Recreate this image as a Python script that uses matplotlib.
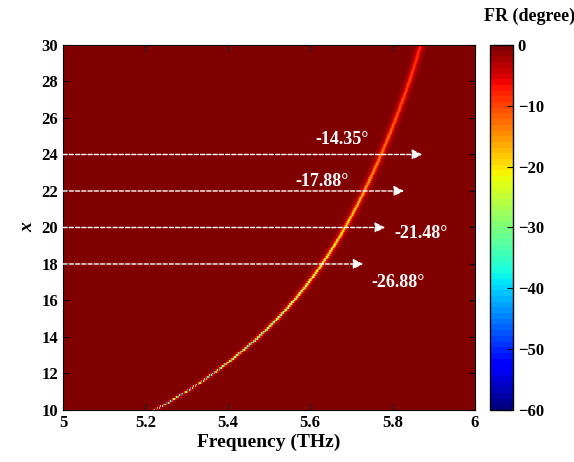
import numpy as np
import matplotlib
matplotlib.use('Agg')
import matplotlib.pyplot as plt

plt.rcParams['font.family'] = ['Liberation Serif', 'DejaVu Serif']
plt.rcParams['font.weight'] = 'bold'

# 共振位置 (読み取り値)
x_levels = [10, 12, 14, 16, 18, 20, 22, 24, 26, 28, 30]
f_res = [5.224, 5.363, 5.477, 5.560, 5.627, 5.686, 5.731, 5.773, 5.808, 5.840, 5.868]
fr_min = [-58, -48, -40, -33, -26.88, -21.48, -17.88, -14.35, -12.0, -10.0, -8.5]
half_width = [0.0015, 0.0018, 0.0022, 0.0026, 0.003, 0.0034, 0.0038, 0.0042, 0.0046, 0.005, 0.0055]

# 矢印と注釈
arrow_x = [24, 22, 20, 18]
arrow_end = [5.872, 5.828, 5.782, 5.729]
labels = ['-14.35°', '-17.88°', '-21.48°', '-26.88°']
label_pos = [(5.678, 24.8), (5.629, 22.5), (5.87, 19.65), (5.814, 17.0)]

freq = np.linspace(5, 6, 1001)
xs = np.linspace(10, 30, 201)
F, X = np.meshgrid(freq, xs)
# 読み取り点を滑らかにつなぐ
f0 = np.polyval(np.polyfit(x_levels, f_res, 4), xs)[:, None]
depth = np.polyval(np.polyfit(x_levels, fr_min, 3), xs)[:, None]
g = np.interp(xs, x_levels, half_width)[:, None]
FR = depth * g**2 / ((F - f0)**2 + g**2)

fig = plt.figure(figsize=(5.74, 4.62), dpi=100)
ax = fig.add_axes([0.1098, 0.1126, 0.7177, 0.79])
cax = fig.add_axes([0.8537, 0.1126, 0.040, 0.79])

cmap = plt.get_cmap('jet', 64)
im = ax.pcolormesh(F, X, FR, cmap=cmap, vmin=-60, vmax=0, shading='nearest', rasterized=True)
ax.set_xlim(5, 6)
ax.set_ylim(10, 30)
ax.set_xticks([5, 5.2, 5.4, 5.6, 5.8, 6])
ax.set_xticklabels(['5', '5.2', '5.4', '5.6', '5.8', '6'])
ax.set_yticks(range(10, 31, 2))
ax.tick_params(direction='in', top=True, right=True, labelsize=12, length=4)
ax.set_xlabel('Frequency (THz)', fontsize=14, fontweight='bold', labelpad=2)
ax.set_ylabel('x', fontsize=14, fontweight='bold', style='italic', labelpad=4)

for yv, xe in zip(arrow_x, arrow_end):
    ax.annotate('', xy=(xe, yv), xytext=(5.0, yv),
                arrowprops=dict(arrowstyle='-|>', color='white', lw=1.0,
                                linestyle=(0, (3, 1.5)), mutation_scale=15,
                                shrinkA=0, shrinkB=0))
for txt, (lx, ly) in zip(labels, label_pos):
    ax.text(lx, ly, txt, color='white', fontsize=13, fontweight='bold',
            ha='center', va='center')

cb = fig.colorbar(im, cax=cax, ticks=range(-60, 1, 10))
cb.ax.tick_params(direction='in', labelsize=12, length=4)
cb.outline.set_linewidth(1.0)
fig.text(0.923, 0.965, 'FR (degree)', fontsize=13, fontweight='bold', ha='center', va='center')

fig.savefig('out.png', dpi=100)
